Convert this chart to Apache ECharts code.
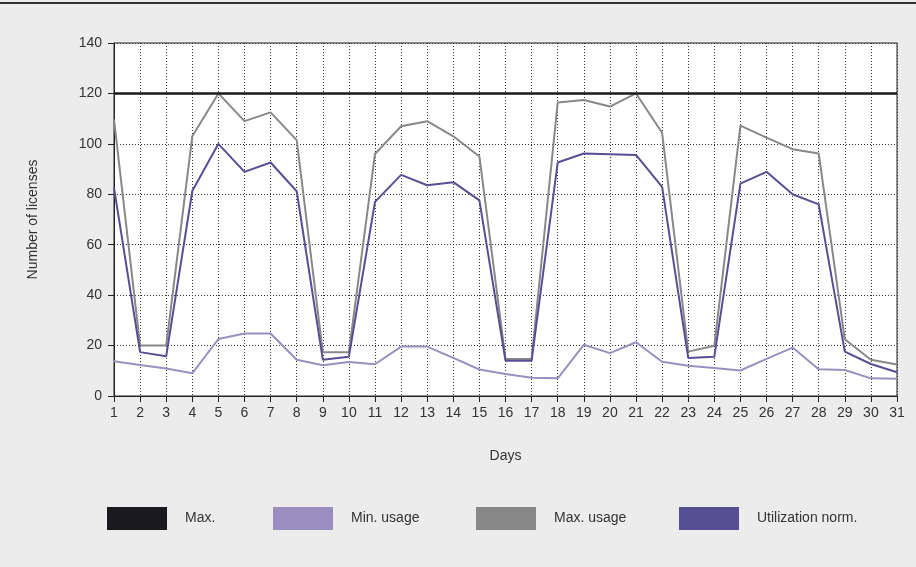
<!DOCTYPE html>
<html>
<head>
<meta charset="utf-8">
<script src="https://cdn.jsdelivr.net/npm/echarts@6/dist/echarts.min.js"></script>
<style>
  html, body { margin: 0; padding: 0; background: #ececec; }
  #chart { width: 916px; height: 567px; }
</style>
</head>
<body>
<div id="chart"></div>
<script>
// days of the month
var days = []
for (var d = 1; d <= 31; d++) days.push(String(d))

var maxLicenses = [120, 120, 120, 120, 120, 120, 120, 120, 120, 120, 120, 120, 120, 120, 120, 120,
  120, 120, 120, 120, 120, 120, 120, 120, 120, 120, 120, 120, 120, 120, 120]
var minUsage = [13.8, 12.3, 10.9, 9, 22.6, 24.8, 24.8, 14.4, 12.2, 13.5, 12.6, 19.6, 19.6, 15.1, 10.5, 8.7,
  7.2, 7, 20.3, 17, 21.3, 13.6, 12, 11.1, 10.1, 14.7, 19.2, 10.6, 10.3, 7, 6.8]
var maxUsage = [109.7, 20, 20, 103, 120, 109, 112.5, 101.5, 17.4, 17.4, 96, 107, 109, 103, 95, 14.7,
  14.7, 116.4, 117.4, 114.8, 120, 104.4, 17.6, 19.9, 107.2, 102.5, 97.9, 96.2, 22.5, 14.4, 12.5]
var utilNorm = [82.6, 17.4, 15.8, 81.3, 100, 88.9, 92.6, 81.2, 14.4, 15.6, 77, 87.7, 83.6, 84.8, 77.6, 14,
  14, 92.6, 96.2, 95.9, 95.6, 82.9, 15.1, 15.6, 84.2, 88.9, 80, 76, 17.6, 12.7, 9.4]

var font = 'Liberation Sans'
var txt = '#333'

var chart = echarts.init(document.getElementById('chart'))

function legendAt(name, left) {
  return {
    data: [name],
    left: left,
    top: 507,
    padding: 0,
    icon: 'rect',
    itemWidth: 60,
    itemHeight: 23,
    textStyle: { fontFamily: font, fontSize: 14, color: txt, padding: [0, 0, 0, 13] }
  }
}

chart.setOption({
  backgroundColor: '#ececec',
  animation: false,
  graphic: [{
    type: 'rect',
    shape: { x: 0, y: 2, width: 916, height: 2 },
    style: { fill: '#333' }
  }],
  grid: {
    left: 114,
    right: 19,
    top: 43,
    bottom: 171,
    show: true,
    backgroundColor: '#fff',
    borderColor: '#222',
    borderWidth: 1
  },
  legend: [
    legendAt('Max.', 107),
    legendAt('Min. usage', 273),
    legendAt('Max. usage', 476),
    legendAt('Utilization norm.', 679)
  ],
  xAxis: {
    type: 'category',
    data: days,
    boundaryGap: false,
    name: 'Days',
    nameLocation: 'middle',
    nameGap: 53,
    nameTextStyle: { fontFamily: font, fontSize: 14, color: txt },
    axisLine: { lineStyle: { color: '#222' } },
    axisTick: { alignWithLabel: true, length: 6, lineStyle: { color: '#222' } },
    axisLabel: { fontFamily: font, fontSize: 14, color: txt, margin: 10, interval: 0 },
    splitLine: { show: true, lineStyle: { color: '#333', type: [1, 2], width: 1 } }
  },
  yAxis: {
    type: 'value',
    min: 0,
    max: 140,
    interval: 20,
    name: 'Number of licenses',
    nameLocation: 'middle',
    nameGap: 74,
    nameTextStyle: { fontFamily: font, fontSize: 14, color: txt },
    axisLine: { show: true, lineStyle: { color: '#222' } },
    axisTick: { show: true, length: 6, lineStyle: { color: '#222' } },
    axisLabel: { fontFamily: font, fontSize: 14, color: txt, margin: 12 },
    splitLine: { show: true, lineStyle: { color: '#333', type: [1, 2], width: 1 } }
  },
  series: [
    {
      name: 'Max.',
      type: 'line',
      data: maxLicenses,
      color: '#1a1a1e',
      symbol: 'none',
      lineStyle: { width: 2.5, color: '#1a1a1e' },
      z: 5
    },
    {
      name: 'Min. usage',
      type: 'line',
      data: minUsage,
      color: '#9a8fc0',
      symbol: 'none',
      lineStyle: { width: 2, color: '#9a8fc0' }
    },
    {
      name: 'Max. usage',
      type: 'line',
      data: maxUsage,
      color: '#888888',
      symbol: 'none',
      lineStyle: { width: 2, color: '#888888' }
    },
    {
      name: 'Utilization norm.',
      type: 'line',
      data: utilNorm,
      color: '#574f94',
      symbol: 'none',
      lineStyle: { width: 2, color: '#574f94' }
    }
  ]
})
</script>
</body>
</html>
